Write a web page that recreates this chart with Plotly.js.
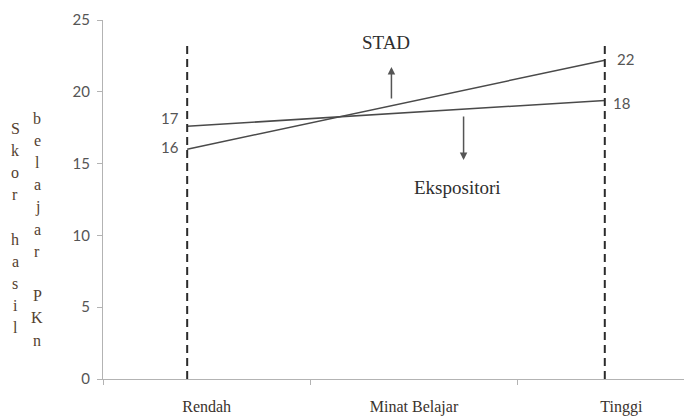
<!DOCTYPE html>
<html>
<head>
<meta charset="utf-8">
<script src="https://cdn.plot.ly/plotly-3.0.1.min.js"></script>
<style>html,body{margin:0;padding:0;background:#fff;}#chart{width:684px;height:416px;}</style>
</head>
<body>
<div id="chart"></div>
<script>
// ---- data ----
var categories = ['Rendah', 'Minat Belajar', 'Tinggi'];
var levelX = [0.406, 2.42];            // positions of "Rendah" and "Tinggi" levels on the axis
var stad = [16.0, 22.2];
var ekspositori = [17.6, 19.4];
var labelsLeft = ['17', '16'];          // written labels at Rendah (Ekspositori, STAD)
var labelsRight = ['22', '18'];         // written labels at Tinggi (STAD, Ekspositori)
var yTicks = [0, 5, 10, 15, 20, 25];
var dashTop = 23.5;
var yTitleCol1 = 'Skor hasil';
var yTitleCol2 = 'belajar PKn';

var lineColor = '#4a4a4a';
var traces = [
  {x: levelX, y: stad, mode: 'lines', line: {color: lineColor, width: 1.5}, hoverinfo: 'skip'},
  {x: levelX, y: ekspositori, mode: 'lines', line: {color: lineColor, width: 1.5}, hoverinfo: 'skip'},
  {x: [levelX[0], levelX[0]], y: [0, dashTop], mode: 'lines', line: {color: '#2b2b2b', width: 2, dash: '8px,5px'}, hoverinfo: 'skip'},
  {x: [levelX[1], levelX[1]], y: [0, dashTop], mode: 'lines', line: {color: '#2b2b2b', width: 2, dash: '8px,5px'}, hoverinfo: 'skip'}
];

var numFont = {family: 'Lato, sans-serif', size: 15, color: '#555555'};
var serifFam = '"Liberation Serif", "DejaVu Serif", serif';

var annotations = [
  {x: levelX[0], y: ekspositori[0], xref: 'x', yref: 'y', text: labelsLeft[0], showarrow: false, xanchor: 'right', xshift: -6, yshift: 8, font: numFont},
  {x: levelX[0], y: stad[0], xref: 'x', yref: 'y', text: labelsLeft[1], showarrow: false, xanchor: 'right', xshift: -6, yshift: 2, font: numFont},
  {x: levelX[1], y: stad[1], xref: 'x', yref: 'y', text: labelsRight[0], showarrow: false, xanchor: 'left', xshift: 10, yshift: 1, font: numFont},
  {x: levelX[1], y: ekspositori[1], xref: 'x', yref: 'y', text: labelsRight[1], showarrow: false, xanchor: 'left', xshift: 6, yshift: -3, font: numFont},
  {x: 1.367, y: 23.4, xref: 'x', yref: 'y', text: 'STAD', showarrow: false, font: {family: serifFam, size: 19, color: '#2e2e2e'}},
  {x: 1.71, y: 13.37, xref: 'x', yref: 'y', text: 'Ekspositori', showarrow: false, font: {family: serifFam, size: 19, color: '#2e2e2e'}},
  {x: 1.391, y: 21.73, xref: 'x', yref: 'y', text: '', showarrow: true, ax: 0, ay: 33, arrowhead: 2, arrowsize: 1, arrowwidth: 1.5, arrowcolor: '#555'},
  {x: 1.739, y: 15.25, xref: 'x', yref: 'y', text: '', showarrow: true, ax: 0, ay: -45, arrowhead: 2, arrowsize: 1, arrowwidth: 1.5, arrowcolor: '#555'}
];

// vertical y-axis title, letter by letter in two columns
var titleFont = {family: serifFam, size: 16, color: '#54412f'};
function addColumn(str, xpx, ystartpx) {
  for (var i = 0; i < str.length; i++) {
    var ch = str.charAt(i);
    if (ch === ' ') continue;
    annotations.push({x: (xpx - 103) / 581, y: 1 - (ystartpx + i * 22.2 - 20) / 359, xref: 'paper', yref: 'paper',
      text: ch, showarrow: false, xanchor: 'center', yanchor: 'middle', font: titleFont});
  }
}
addColumn(yTitleCol1, 15, 128);
addColumn(yTitleCol2, 37, 118);

var layout = {
  width: 684, height: 416,
  margin: {l: 103, r: 0, t: 20, b: 37, pad: 0},
  paper_bgcolor: '#ffffff', plot_bgcolor: '#ffffff',
  showlegend: false,
  xaxis: {
    range: [0, 2.802], showgrid: false, zeroline: false,
    showline: true, linecolor: '#b3b3b3', linewidth: 1,
    tickmode: 'array', tickvals: [0.5, 1.5, 2.5], ticktext: categories,
    ticks: '', ticklabelstandoff: 13,
    tickfont: {family: serifFam, size: 16, color: '#3a322c'},
    minor: {tickmode: 'array', tickvals: [0, 1, 2], ticks: 'outside', ticklen: 5, tickcolor: '#b3b3b3', showgrid: false}
  },
  yaxis: {
    range: [0, 25], showgrid: false, zeroline: false,
    showline: true, linecolor: '#b3b3b3', linewidth: 1,
    tickmode: 'array', tickvals: yTicks, ticks: 'outside', ticklen: 5, tickcolor: '#b3b3b3',
    ticklabelstandoff: 4,
    tickfont: numFont
  },
  annotations: annotations
};

Plotly.newPlot('chart', traces, layout, {displayModeBar: false, staticPlot: true});
</script>
</body>
</html>
